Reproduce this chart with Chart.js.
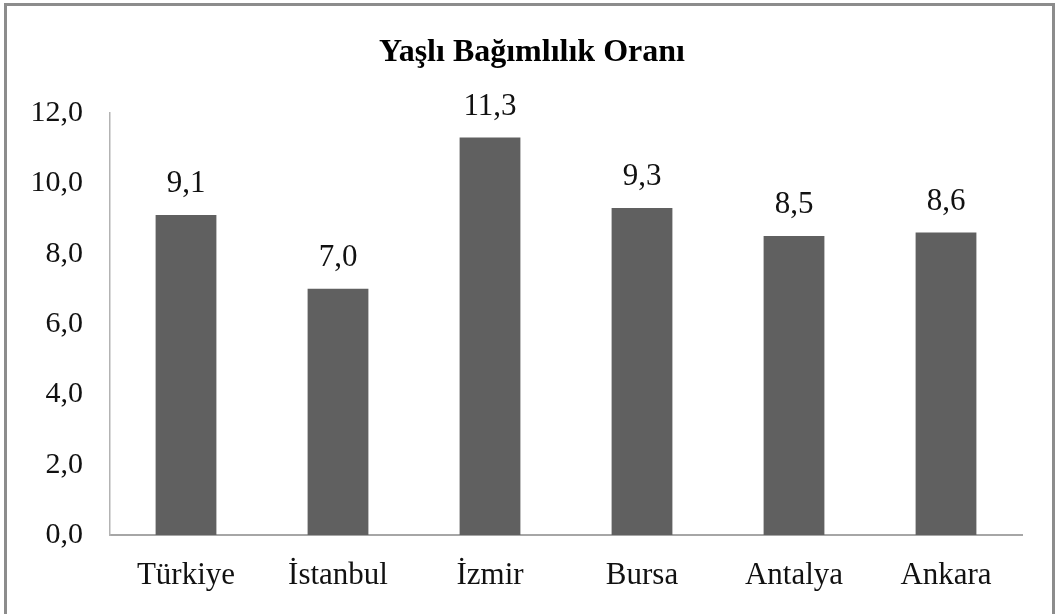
<!DOCTYPE html>
<html lang="tr">
<head>
    <meta charset="UTF-8">
    <title>Yaşlı Bağımlılık Oranı</title>
    <script src="https://cdn.jsdelivr.net/npm/chart.js"></script>
    <style>
        html, body { margin: 0; padding: 0; background: #ffffff; }
        #wrap { position: relative; width: 1064px; height: 614px; }
    </style>
</head>
<body>
    <div id="wrap">
        <canvas id="oranChart" width="1064" height="614"></canvas>
    </div>

    <script>
        // Veriler
        const sehirler = ['Türkiye', 'İstanbul', 'İzmir', 'Bursa', 'Antalya', 'Ankara'];
        const oranlar = [9.1, 7.0, 11.3, 9.3, 8.5, 8.6];
        const eksenMin = 0;
        const eksenMax = 12;
        const eksenAdim = 2;

        const serif = "'Liberation Serif', 'Times New Roman', serif";
        const virgulle = v => Number(v).toFixed(1).replace('.', ',');

        // Grafik çevresindeki gri çerçeve
        const cerceve = {
            id: 'cerceve',
            beforeDraw(chart) {
                const c = chart.ctx;
                c.save();
                c.fillStyle = '#ffffff';
                c.fillRect(0, 0, chart.width, chart.height);
                c.strokeStyle = '#8c8c8c';
                c.lineWidth = 3;
                c.strokeRect(5.5, 4.5, 1048, 700);
                c.restore();
            }
        };

        // Çubukların üstündeki değer etiketleri
        const degerEtiketi = {
            id: 'degerEtiketi',
            afterDatasetsDraw(chart) {
                const c = chart.ctx;
                const meta = chart.getDatasetMeta(0);
                c.save();
                c.font = '31px ' + serif;
                c.fillStyle = '#111111';
                c.textAlign = 'center';
                c.textBaseline = 'alphabetic';
                meta.data.forEach((bar, i) => {
                    c.fillText(virgulle(oranlar[i]), bar.x, bar.y - 23);
                });
                c.restore();
            }
        };

        new Chart(document.getElementById('oranChart'), {
            type: 'bar',
            data: {
                labels: sehirler,
                datasets: [{
                    label: 'Yaşlı Bağımlılık Oranı',
                    data: oranlar,
                    backgroundColor: '#606060',
                    borderWidth: 0,
                    categoryPercentage: 1.0,
                    barPercentage: 0.4
                }]
            },
            options: {
                responsive: false,
                animation: false,
                devicePixelRatio: 1,
                layout: {
                    padding: { left: 21, right: 21, top: 0, bottom: 0 }
                },
                plugins: {
                    legend: { display: false },
                    tooltip: { enabled: false },
                    title: {
                        display: true,
                        text: 'Yaşlı Bağımlılık Oranı',
                        color: '#000000',
                        font: { family: serif, size: 32, weight: 'bold', lineHeight: 1.2 },
                        padding: { top: 34, bottom: 40.6 }
                    }
                },
                scales: {
                    x: {
                        grid: { display: false, drawTicks: false },
                        border: { display: true, color: '#a6a6a6', width: 2 },
                        ticks: {
                            color: '#111111',
                            padding: 22,
                            maxRotation: 0,
                            font: { family: serif, size: 31, lineHeight: 1.2 }
                        },
                        afterFit(scale) { scale.height = 79; }
                    },
                    y: {
                        min: eksenMin,
                        max: eksenMax,
                        grid: { display: false, drawTicks: false },
                        border: { display: true, color: '#b3b3b3', width: 1.5 },
                        ticks: {
                            stepSize: eksenAdim,
                            color: '#111111',
                            padding: 27,
                            font: { family: serif, size: 30, lineHeight: 1.2 },
                            callback: v => virgulle(v)
                        },
                        afterFit(scale) { scale.width = 89; }
                    },
                    // sağ tarafta boşluk bırakan görünmez eksen
                    bosluk: {
                        position: 'right',
                        min: eksenMin,
                        max: eksenMax,
                        grid: { display: false, drawTicks: false },
                        border: { display: false },
                        ticks: { display: false },
                        afterFit(scale) { scale.width = 21; }
                    }
                }
            },
            plugins: [cerceve, degerEtiketi]
        });
    </script>
</body>
</html>
